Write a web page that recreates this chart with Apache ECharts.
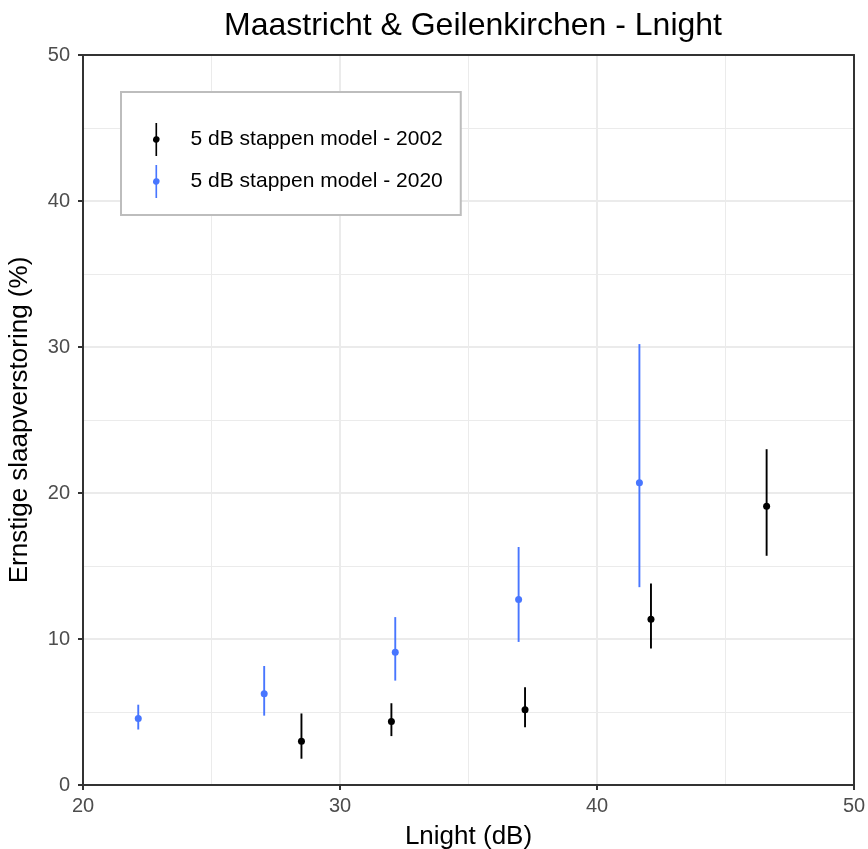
<!DOCTYPE html>
<html>
<head>
<meta charset="utf-8">
<script src="https://cdn.jsdelivr.net/npm/echarts@6/dist/echarts.min.js"></script>
<style>html,body{margin:0;padding:0;background:#fff}#c{width:868px;height:849px}</style>
</head>
<body>
<div id="c"></div>
<script>
// Data
const seriesNames = ['5 dB stappen model - 2002', '5 dB stappen model - 2020'];
const x2002 = [28.5, 32.0, 37.2, 42.1, 46.6];
const y2002 = [3.0, 4.35, 5.15, 11.35, 19.1];
const lo2002 = [1.8, 3.35, 3.95, 9.35, 15.7];
const hi2002 = [4.9, 5.6, 6.7, 13.8, 23.0];
const x2020 = [22.15, 27.05, 32.15, 36.95, 41.65];
const y2020 = [4.55, 6.25, 9.1, 12.7, 20.7];
const lo2020 = [3.8, 4.75, 7.15, 9.8, 13.55];
const hi2020 = [5.5, 8.15, 11.5, 16.3, 30.2];

const FONT = '"Liberation Sans", Arial, Helvetica, sans-serif';
const colors = ['#000000', '#4876FF'];

function rows(xs, ys, los, his) {
  return xs.map((x, i) => [x, ys[i], los[i], his[i]]);
}

function renderItem(params, api) {
  const x = api.value(0);
  const p = api.coord([x, api.value(1)]);
  const lo = api.coord([x, api.value(2)]);
  const hi = api.coord([x, api.value(3)]);
  const color = api.visual('color');
  return {
    type: 'group',
    children: [
      { type: 'line', shape: { x1: lo[0], y1: lo[1], x2: hi[0], y2: hi[1] },
        style: { stroke: color, lineWidth: 1.9 } },
      { type: 'circle', shape: { cx: p[0], cy: p[1], r: 3.5 },
        style: { fill: color } }
    ]
  };
}

const icon = 'path://M9,0 L11,0 L11,16.13 A4,4 0 0 1 11,23.87 L11,40 L9,40 L9,23.87 A4,4 0 0 1 9,16.13 Z';

const gridStyle = {
  splitLine: { show: true, lineStyle: { color: '#ebebeb', width: 2 } },
  minorTick: { show: false, splitNumber: 2 },
  minorSplitLine: { show: true, lineStyle: { color: '#ebebeb', width: 1 } }
};
const borderAxis = {
  axisLine: { show: true, onZero: false, lineStyle: { color: '#333', width: 2 } },
  axisTick: { show: false }, axisLabel: { show: false }, splitLine: { show: false }
};

const chart = echarts.init(document.getElementById('c'), null, { renderer: 'canvas' });
chart.setOption({
  animation: false,
  backgroundColor: '#ffffff',
  textStyle: { fontFamily: FONT },
  title: {
    text: 'Maastricht & Geilenkirchen - Lnight',
    left: 468, textAlign: 'center', top: 5,
    textStyle: { fontFamily: FONT, fontSize: 32, fontWeight: 'normal', color: '#000' }
  },
  legend: {
    orient: 'vertical',
    left: 121, top: 92,
    padding: [31, 18, 17, 32],
    itemGap: 9,
    itemWidth: 6.6, itemHeight: 33,
    icon: icon,
    borderColor: '#bdbdbd', borderWidth: 2,
    backgroundColor: '#fff',
    data: seriesNames,
    textStyle: { fontFamily: FONT, fontSize: 21, color: '#000', padding: [0, 0, 0, 26] }
  },
  grid: {
    left: 83, right: 14, top: 55, bottom: 64,
    containLabel: false, outerBoundsMode: 'none'
  },
  xAxis: [{
    type: 'value', min: 20, max: 50, interval: 10, position: 'bottom',
    name: 'Lnight (dB)', nameLocation: 'middle', nameGap: 39,
    nameTextStyle: { fontFamily: FONT, fontSize: 26, color: '#000' },
    axisLine: { show: true, onZero: false, lineStyle: { color: '#333', width: 2 } },
    axisTick: { show: true, length: 5, lineStyle: { color: '#333', width: 2 } },
    axisLabel: { fontFamily: FONT, fontSize: 20, color: '#4d4d4d', margin: 11 },
    ...gridStyle
  }, {
    type: 'value', min: 20, max: 50, interval: 10, position: 'top', ...borderAxis
  }],
  yAxis: [{
    type: 'value', min: 0, max: 50, interval: 10, position: 'left',
    name: 'Ernstige slaapverstoring (%)', nameLocation: 'middle', nameGap: 50,
    nameTextStyle: { fontFamily: FONT, fontSize: 26, color: '#000' },
    axisLine: { show: true, onZero: false, lineStyle: { color: '#333', width: 2 } },
    axisTick: { show: true, length: 5, lineStyle: { color: '#333', width: 2 } },
    axisLabel: { fontFamily: FONT, fontSize: 20, color: '#4d4d4d', margin: 13 },
    ...gridStyle
  }, {
    type: 'value', min: 0, max: 50, interval: 10, position: 'right', ...borderAxis
  }],
  series: [
    { name: seriesNames[0], type: 'custom', renderItem: renderItem,
      itemStyle: { color: colors[0] },
      encode: { x: 0, y: [1, 2, 3] },
      data: rows(x2002, y2002, lo2002, hi2002) },
    { name: seriesNames[1], type: 'custom', renderItem: renderItem,
      itemStyle: { color: colors[1] },
      encode: { x: 0, y: [1, 2, 3] },
      data: rows(x2020, y2020, lo2020, hi2020) }
  ]
});
</script>
</body>
</html>
